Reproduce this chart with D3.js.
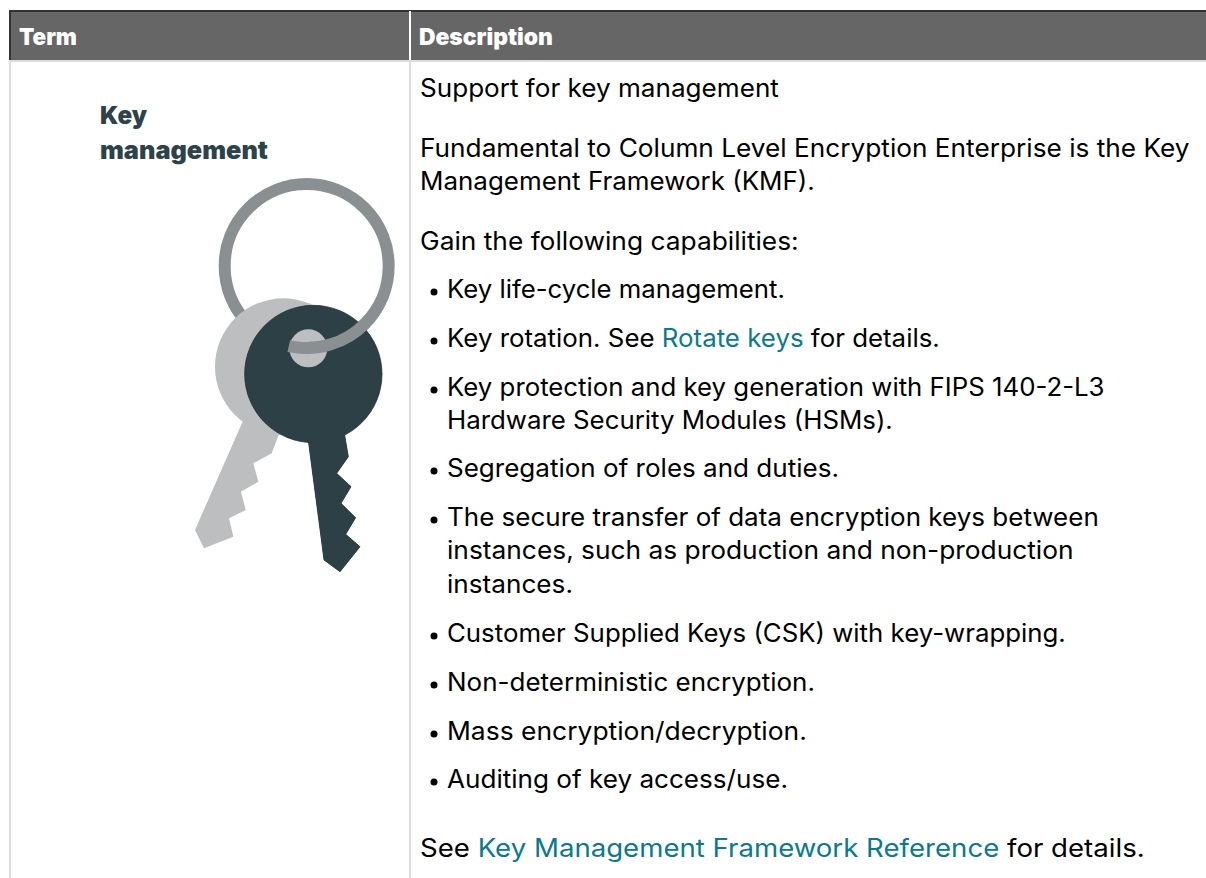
<!DOCTYPE html>
<html><head><meta charset="utf-8">
<script src="https://cdn.jsdelivr.net/npm/d3@7"></script>
<style>html,body{margin:0;padding:0;background:#fff;overflow:hidden}svg{display:block}</style>
</head><body><svg id="c" width="1206" height="878"></svg>
<script>
const headers = ["Term", "Description"];
const termLines = ["Key", "management"];
const bodyLines = [
  [["Support for key management"]],
  [["Fundamental to Column Level Encryption Enterprise is the Key"]],
  [["Management Framework (KMF)."]],
  [["Gain the following capabilities:"]],
  [["Key life-cycle management."]],
  [["Key rotation. See "], ["Rotate keys", 1], [" for details."]],
  [["Key protection and key generation with FIPS 140-2-L3"]],
  [["Hardware Security Modules (HSMs)."]],
  [["Segregation of roles and duties."]],
  [["The secure transfer of data encryption keys between"]],
  [["instances, such as production and non-production"]],
  [["instances."]],
  [["Customer Supplied Keys (CSK) with key-wrapping."]],
  [["Non-deterministic encryption."]],
  [["Mass encryption/decryption."]],
  [["Auditing of key access/use."]],
  [["See "], ["Key Management Framework Reference", 1], [" for details."]]
];
const lineBaselines = [97,157,190,250,298,347,396,429,477,526,559,593,642,691,740,788,857];
const lineStarts    = [420,420,420,420,447,447,447,447,447,447,447,447,447,447,447,447,420];
const lineEnds      = [779,1190,815,799,785,940,1105,893,839,1099,1074,573,1066,815,807,788,1145];
const bulletFlags   = [0,0,0,0,1,1,1,0,1,1,0,0,1,1,1,1,0];

const darkBlade = [[385,812],[432,1170],[480,1205],[540,1130],[497,1093],[527,1043],[483,1000],[513,950],[470,910],[505,860],[493,790]];
const lightBlade = [[190,750],[45,1080],[72,1135],[160,1100],[147,1045],[197,1020],[183,965],[235,935],[220,880],[275,850],[298,790]];
const ringCircle = [380,288,246];
const lightHead = [310,590,205];
const darkHead = [400,612,206];
const holeCircle = [385,535,57];

const svg = d3.select("#c");
const font = "Inter, 'Noto Sans', sans-serif";

function fit(sel, starts, ends, ys) {
  sel.each(function(d,i){
    const k = (ends[i]-starts[i]) / this.getComputedTextLength();
    d3.select(this).attr("transform",`translate(${starts[i]},${ys[i]}) scale(${k},1)`);
  });
}

svg.append("rect").attr("x",9).attr("y",11).attr("width",1197).attr("height",49).attr("fill","#666");
svg.append("rect").attr("x",9).attr("y",10).attr("width",1197).attr("height",2).attr("fill","#333");
svg.append("rect").attr("x",9).attr("y",10).attr("width",2).attr("height",50).attr("fill","#333");
svg.append("rect").attr("x",9).attr("y",60).attr("width",1197).attr("height",2).attr("fill","#ddd");
svg.append("rect").attr("x",9).attr("y",60).attr("width",2).attr("height",818).attr("fill","#ddd");
svg.append("rect").attr("x",409).attr("y",60).attr("width",2).attr("height",818).attr("fill","#ddd");
svg.append("rect").attr("x",409).attr("y",11).attr("width",2).attr("height",49).attr("fill","#fff");

fit(svg.selectAll("text.h").data(headers).join("text").attr("class","h")
  .attr("font-family",font).attr("font-size",23).attr("font-weight",900).attr("fill","#fff").text(d=>d),
  [19,419],[77,553],[45,45]);

fit(svg.selectAll("text.t").data(termLines).join("text").attr("class","t")
  .attr("font-family",font).attr("font-size",25).attr("font-weight",900).attr("fill","#2d4349").text(d=>d),
  [100,100],[147,268],[124,159]);

const ix = d3.scaleLinear().domain([0,240*3]).range([180,420]);
const iy = d3.scaleLinear().domain([0,420*3]).range([170,590]);
const r = v => v/3;
const line = d3.line().x(d=>ix(d[0])).y(d=>iy(d[1])).curve(d3.curveLinearClosed);
const g = svg.append("g");
const circ = (c,fill)=>g.append("circle").attr("cx",ix(c[0])).attr("cy",iy(c[1])).attr("r",r(c[2])).attr("fill",fill);

g.append("circle").attr("cx",ix(ringCircle[0])).attr("cy",iy(ringCircle[1])).attr("r",r(ringCircle[2]))
  .attr("fill","none").attr("stroke","#8a8f92").attr("stroke-width",12);
circ(lightHead,"#bcbec0");
g.append("path").attr("d",line(lightBlade)).attr("fill","#bcbec0");
g.append("path").attr("d",line(darkBlade)).attr("fill","#2c4045").attr("stroke","#1c2a2d").attr("stroke-width",0.7);
circ(darkHead,"#2c4045").attr("stroke","#1c2a2d").attr("stroke-width",0.7);
g.append("path").attr("d",line(darkBlade)).attr("fill","#2c4045");
circ(holeCircle,"#bcbec0");

const ringArc = d3.arc().innerRadius(r(ringCircle[2])-6).outerRadius(r(ringCircle[2])+6)
  .startAngle(Math.PI*0.745).endAngle(Math.PI*1.07);
g.append("path").attr("transform",`translate(${ix(ringCircle[0])},${iy(ringCircle[1])})`)
  .attr("d",ringArc()).attr("fill","#8a8f92");

const txt = svg.selectAll("text.b").data(bodyLines).join("text").attr("class","b")
  .attr("font-family",font).attr("font-size",25).attr("font-weight",400).attr("fill","#000")
  .style("white-space","pre");
txt.selectAll("tspan").data(d=>d).join("tspan").attr("fill",d=>d[1]?"#0b7a8f":"#000").style("white-space","pre").text(d=>d[0]);
fit(txt, lineStarts, lineEnds, lineBaselines);

svg.selectAll("circle.bul").data(bodyLines.map((d,i)=>i).filter(i=>bulletFlags[i])).join("circle").attr("class","bul")
  .attr("cx",434).attr("cy",i=>lineBaselines[i]-6).attr("r",3.5).attr("fill","#000");
</script></body></html>
